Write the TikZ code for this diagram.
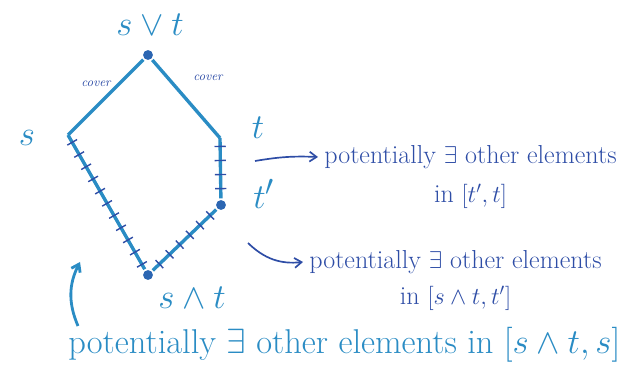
\documentclass[tikz,border=0pt]{standalone}
\usepackage{tikz}
\usetikzlibrary{arrows.meta,positioning,decorations.markings}
\definecolor{ink-light}{HTML}{2A8CC4}
\definecolor{ink-dark}{HTML}{2E4DA6}

\begin{document}
\begin{tikzpicture}[x=0.25mm, y=-0.25mm, line width=2.4pt, ink-light, >={Straight Barb[length=5pt,width=7pt]}]
    \tikzset{
        vertex/.style={circle, fill=ink-dark!60!ink-light, inner sep=0pt, minimum size=7pt},
        hatched/.style={postaction={decorate, decoration={markings,
            mark=between positions 6pt and -3pt step 10pt with {\draw[ink-dark, line width=1pt] (0,-4pt) -- (0,4pt);}}}},
        lbl/.style={font=\fontsize{28}{30}\selectfont, inner sep=1pt},
        cov/.style={ink-dark, font=\fontsize{9}{10}\selectfont\itshape},
        note/.style={ink-dark, font=\fontsize{18.5}{20}\selectfont},
    }
    \useasboundingbox (0,0) rectangle (631,375);
    % lattice
    \node[vertex] (join) at (148,55) {};
    \coordinate (s) at (68,135);
    \coordinate (t) at (220,138);
    \node[vertex] (tp) at (221,205) {};
    \node[vertex] (meet) at (148,275) {};
    \draw (s) -- (join) -- (t);
    \draw[hatched] (t) -- (tp);
    \draw[hatched] (tp) -- (meet);
    \draw[hatched] (s) -- (meet);
    \node[cov] (c1) at (96,84) {cover};
    \node[cov] (c2) at (208,78) {cover};
    % labels
    \node[lbl] (ljoin) at (150,25) {$s\vee t$};
    \node[lbl] (ls) at (27,138) {$s$};
    \node[lbl] (lt) at (258,128) {$t$};
    \node[lbl] (ltp) at (264,194) {$t'$};
    \node[lbl] (lmeet) at (192,298) {$s\wedge t$};
    % notes
    \node[note, anchor=west] (n1) at (318,157) {potentially $\exists$ other elements};
    \node[note, below=2pt of n1] (n1in) {in $[t',t]$};
    \node[note, anchor=west] (n2) at (303,262) {potentially $\exists$ other elements};
    \node[note, below=0pt of n2] (n2in) {in $[s\wedge t,t']$};
    \node[font=\fontsize{24.5}{26}\selectfont, anchor=west] (n3) at (62,345) {potentially $\exists$ other elements in $[s\wedge t,s]$};
    \coordinate (a1) at (255,161);
    \coordinate (a2) at (248,243);
    \coordinate (a3) at (78,326);
    \coordinate (a3end) at (80,262);
    \draw[->, ink-dark, line width=1.2pt] (a1) to[bend left=6] (n1.west);
    \draw[->, ink-dark, line width=1.2pt] (a2) to[bend right=25] (n2.west);
    \draw[->, line width=2pt] (a3) to[bend left=25] (a3end);
\end{tikzpicture}
\end{document}
